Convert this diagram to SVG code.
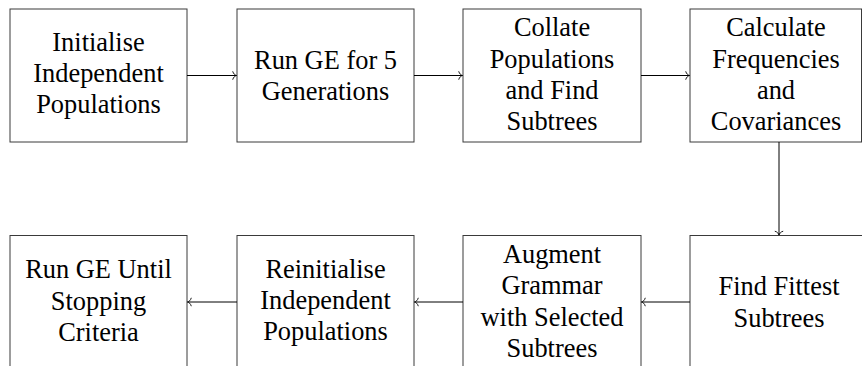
<svg xmlns="http://www.w3.org/2000/svg" width="862" height="366" viewBox="0 0 862 366" font-family="'Liberation Serif', 'DejaVu Serif', 'Times New Roman', serif">
<defs>
<style>
.box{fill:#fff;stroke:#3a3a3a;stroke-width:1}
text{font-family:'Liberation Serif','DejaVu Serif','Times New Roman',serif;font-size:26.4px;fill:#000;text-anchor:middle}
.c{fill:none;stroke:#000;stroke-width:1}
</style>
<marker id="to" markerUnits="userSpaceOnUse" markerWidth="12" markerHeight="12" viewBox="-6 -6 12 12" refX="0" refY="0" orient="auto" overflow="visible">
<path d="M-3.8,-4.2 C-3.2,-1.6 -1.2,-0.3 0,0 C-1.2,0.3 -3.2,1.6 -3.8,4.2" fill="none" stroke="#000" stroke-width="0.9"/>
</marker>
</defs>
<rect width="862" height="366" fill="#fff"/>
<g id="n1"><rect class="box" x="10" y="9" width="177" height="133"/>
<text x="98.5" y="50.7">Initialise</text><text x="98.5" y="82">Independent</text><text x="98.5" y="113.3">Populations</text></g>
<g id="n2"><rect class="box" x="237" y="9" width="177" height="133"/>
<text x="325.5" y="69">Run GE for 5</text><text x="325.5" y="100.3">Generations</text></g>
<g id="n3"><rect class="box" x="463" y="9" width="178" height="133"/>
<text x="552" y="36">Collate</text><text x="552" y="67.5">Populations</text><text x="552" y="99">and Find</text><text x="552" y="130.3">Subtrees</text></g>
<g id="n4"><rect class="box" x="690" y="9" width="171.5" height="133"/>
<text x="776" y="36">Calculate</text><text x="776" y="67.5">Frequencies</text><text x="776" y="99">and</text><text x="776" y="130.3">Covariances</text></g>
<g id="n5"><rect class="box" x="690" y="235.5" width="178" height="133"/>
<text x="779" y="295">Find Fittest</text><text x="779" y="326.5">Subtrees</text></g>
<g id="n6"><rect class="box" x="463" y="235.5" width="178" height="133"/>
<text x="552" y="262.7">Augment</text><text x="552" y="294">Grammar</text><text x="552" y="325.5">with Selected</text><text x="552" y="356.8">Subtrees</text></g>
<g id="n7"><rect class="box" x="237" y="235.5" width="177" height="133"/>
<text x="325.5" y="277.5">Reinitialise</text><text x="325.5" y="309">Independent</text><text x="325.5" y="340.3">Populations</text></g>
<g id="n8"><rect class="box" x="10" y="235.5" width="177" height="133"/>
<text x="98.5" y="278.3">Run GE Until</text><text x="98.5" y="309.8">Stopping</text><text x="98.5" y="341.3">Criteria</text></g>
<g id="connectors">
<line class="c" x1="187" y1="75.5" x2="236.5" y2="75.5" marker-end="url(#to)"/>
<line class="c" x1="414" y1="75.5" x2="462.5" y2="75.5" marker-end="url(#to)"/>
<line class="c" x1="641" y1="75.5" x2="689.5" y2="75.5" marker-end="url(#to)"/>
<line class="c" x1="779" y1="142" x2="779" y2="235" marker-end="url(#to)"/>
<line class="c" x1="690" y1="302" x2="641.5" y2="302" marker-end="url(#to)"/>
<line class="c" x1="463" y1="302" x2="414.5" y2="302" marker-end="url(#to)"/>
<line class="c" x1="237" y1="302" x2="187.5" y2="302" marker-end="url(#to)"/>
</g>
</svg>
